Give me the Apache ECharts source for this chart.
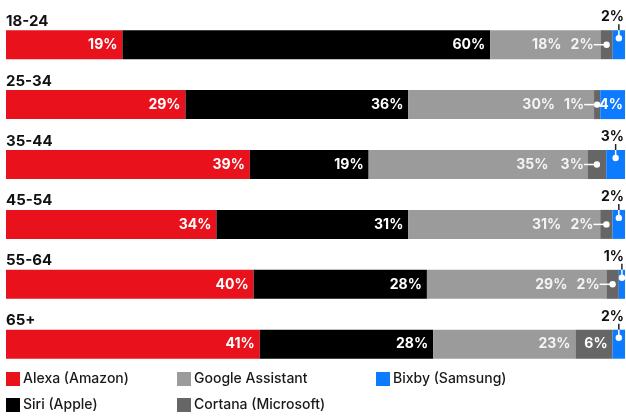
<!DOCTYPE html>
<html><head><meta charset="utf-8">
<script src="https://cdn.jsdelivr.net/npm/echarts@6/dist/echarts.min.js"></script>
<style>html,body{margin:0;padding:0;background:#fff}#c{width:626px;height:418px}</style>
</head><body><div id="c"></div>
<script>
const categories = ['18-24','25-34','35-44','45-54','55-64','65+'];
const alexa   = [19,29,39,34,40,41];
const siri    = [60,36,19,31,28,28];
const google  = [18,30,35,31,29,23];
const cortana = [2,1,3,2,2,6];
const bixby   = [2,4,3,2,1,2];
const seriesNames = ['Alexa (Amazon)','Siri (Apple)','Google Assistant','Cortana (Microsoft)','Bixby (Samsung)'];
const colors = ['#E8111C','#000000','#9B9B9B','#666666','#0C7BFF'];

const raw = [alexa, siri, google, cortana, bixby];
const totals = categories.map((c,i)=>raw.reduce((s,a)=>s+a[i],0));
const SMALL = 3;
const FONT = 'Inter, "Noto Sans", sans-serif';
const BAR_H = 29;

function barSeries(k){
  const arr = raw[k];
  return {
    name: seriesNames[k], type:'bar', stack:'all', barWidth:BAR_H,
    itemStyle:{color:colors[k]},
    data: arr.map((v,i)=>{
      const item = {value: v/totals[i]*100};
      const lab = {show:true, position:'insideRight', distance:5, color:'#fff',
                   fontFamily:FONT, fontWeight:700, fontSize:14,
                   formatter: v+'%'};
      if (k===2 && cortana[i]<=SMALL) lab.offset=[-34,0];
      if (k===2) lab.color='#f4f4f4';
      if (k===3 && v<=SMALL) lab.show=false;
      if (k===4 && v<=SMALL) lab.show=false;
      if (k===4) lab.distance=2;
      item.label = lab;
      return item;
    })
  };
}

const series = [0,1,2,3,4].map(barSeries);
series.push({
  type:'custom', coordinateSystem:'cartesian2d', z:10, silent:true,
  encode:{x:0,y:1},
  data: categories.map((c,i)=>[0,i]),
  renderItem(params, api){
    const i = params.dataIndex;
    const t = totals[i];
    const cStart = (alexa[i]+siri[i]+google[i])/t*100;
    const cMid = cStart + cortana[i]/t*50;
    const bStart = cStart + cortana[i]/t*100;
    const bMid = bStart + bixby[i]/t*50;
    const children = [];
    if (cortana[i] <= SMALL){
      const p = api.coord([cMid, i]);
      children.push({type:'line', shape:{x1:p[0]-13, y1:p[1], x2:p[0], y2:p[1]}, style:{stroke:'#fff', lineWidth:1.5}});
      children.push({type:'circle', shape:{cx:p[0], cy:p[1], r:3.2}, style:{fill:'#fff'}});
      children.push({type:'text', style:{text:cortana[i]+'%', x:p[0]-13, y:p[1], align:'right', verticalAlign:'middle',
        fill:'#f4f4f4', font:'700 14px '+FONT}});
    }
    if (bixby[i] <= SMALL){
      const p = api.coord([bMid, i]);
      const right = api.coord([100, i])[0];
      const top = p[1] - BAR_H/2;
      children.push({type:'line', shape:{x1:p[0], y1:top-6, x2:p[0], y2:top}, style:{stroke:'#222', lineWidth:1.5}});
      children.push({type:'line', shape:{x1:p[0], y1:top, x2:p[0], y2:top+7}, style:{stroke:'#fff', lineWidth:1.5}});
      children.push({type:'circle', shape:{cx:p[0], cy:top+8, r:3.2}, style:{fill:'#fff'}});
      children.push({type:'text', style:{text:bixby[i]+'%', x:right-1, y:top-6, align:'right', verticalAlign:'bottom',
        fill:'#111', font:'700 14px '+FONT}});
    }
    return {type:'group', children};
  }
});

const legendBase = {type:'plain', orient:'vertical', top:372, height:80, itemWidth:14, itemHeight:14, itemGap:12, icon:'rect',
  padding:0,
  textStyle:{fontFamily:FONT, fontSize:14, fontWeight:500, color:'#1a1a1a', lineHeight:14, padding:[0,0,0,-2]}, selectedMode:false};

const chart = echarts.init(document.getElementById('c'), null, {renderer:'canvas'});
chart.setOption({
  animation:false,
  backgroundColor:'#fff',
  grid:{left:6, right:1, top:14.75, bottom:43.85, containLabel:false},
  xAxis:{type:'value', min:0, max:100, show:false},
  yAxis:{type:'category', data:categories, inverse:true,
    axisLine:{show:false}, axisTick:{show:false}, splitLine:{show:false},
    axisLabel:{inside:true, margin:0, align:'left', verticalAlign:'bottom', padding:[0,0,16,0],
      color:'#111', fontFamily:FONT, fontWeight:700, fontSize:15}},
  legend:[
    Object.assign({left:6, data:['Alexa (Amazon)','Siri (Apple)']}, legendBase),
    Object.assign({left:177, data:['Google Assistant','Cortana (Microsoft)']}, legendBase),
    Object.assign({left:376, data:['Bixby (Samsung)']}, legendBase)
  ],
  series
});
</script></body></html>
